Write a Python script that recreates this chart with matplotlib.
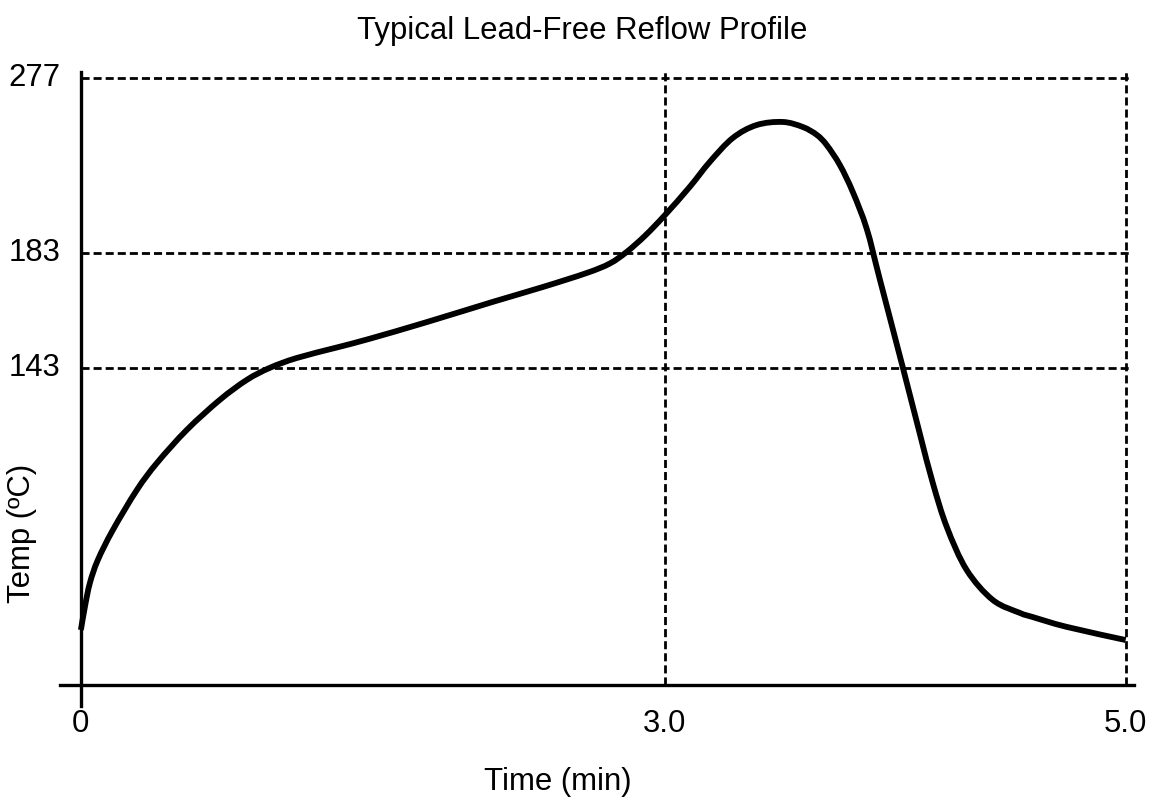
import matplotlib
matplotlib.use("Agg")
import matplotlib.pyplot as plt
import numpy as np
from matplotlib.path import Path
from matplotlib.patches import PathPatch

time_min = [0.0, 0.019, 0.043, 0.081, 0.153, 0.268, 0.364, 0.507, 0.665, 0.794,
            0.904, 1.033, 1.225, 1.383, 1.656, 1.971, 2.211, 2.421, 2.531, 2.612,
            2.700, 2.794, 2.914, 3.010, 3.120, 3.234, 3.359, 3.455, 3.522, 3.569,
            3.632, 3.694, 3.761, 3.823, 3.933, 4.014, 4.077, 4.144, 4.239, 4.364,
            4.493, 4.555, 4.718, 5.0]
temp = [25.1, 35.6, 46.5, 57.0, 70.7, 89.0, 101.3, 116.4, 130.1, 139.2,
        144.7, 149.2, 154.0, 158.0, 165.6, 174.8, 181.6, 188.0, 192.3, 197.6,
        205.0, 214.3, 227.3, 238.7, 249.6, 255.5, 256.9, 254.6, 251.0, 246.4,
        237.3, 225.0, 208.1, 185.3, 145.1, 115.0, 92.2, 72.1, 52.5, 38.8,
        32.9, 31.0, 26.5, 20.5]

# tick positions on the schematic axes and their labels
x_tick_pos = [0.0, 2.794, 5.0]
x_tick_labels = ["0", "3.0", "5.0"]
y_tick_pos = [144.7, 197.1, 277.0]
y_tick_labels = ["143", "183", "277"]

title = "Typical Lead-Free Reflow Profile"
xlabel = "Time (min)"
ylabel = "Temp (ºC)"

plt.rcParams['font.family'] = ['Liberation Sans', 'DejaVu Sans']
W, H = 1156, 808
fig = plt.figure(figsize=(W / 100, H / 100), dpi=100)

left_px, right_px, top_px, bot_px = 60, 1134, 72, 706
ax = fig.add_axes([left_px / W, 1 - bot_px / H, (right_px - left_px) / W, (bot_px - top_px) / H])
ax.set_xlim(-0.1, 5.04)
ax.set_ylim(-9.6, 279.7)

for s in ['top', 'right']:
    ax.spines[s].set_visible(False)
ax.spines['left'].set_position(('data', 0))
ax.spines['bottom'].set_position(('data', 0))
for s in ['left', 'bottom']:
    ax.spines[s].set_linewidth(2.4)
    ax.spines[s].set_color('black')
ax.set_xticks([])
ax.set_yticks([])

dash = (0, (2.9, 1.45))
for y in y_tick_pos:
    ax.plot([0, 5.02], [y, y], color='black', lw=2.0, linestyle=dash, zorder=1)
for x in x_tick_pos[1:]:
    ax.plot([x, x], [0, 279.7], color='black', lw=2.0, linestyle=dash, zorder=1)

# smooth curve through the read points (Catmull-Rom as cubic Bezier path)
pts = np.column_stack([time_min, temp])
verts = [pts[0]]
codes = [Path.MOVETO]
n = len(pts)
for i in range(n - 1):
    p0 = pts[i - 1] if i > 0 else pts[i]
    p1 = pts[i]
    p2 = pts[i + 1]
    p3 = pts[i + 2] if i + 2 < n else pts[i + 1]
    c1 = p1 + (p2 - p0) / 6.0
    c2 = p2 - (p3 - p1) / 6.0
    verts += [c1, c2, p2]
    codes += [Path.CURVE4] * 3
ax.add_patch(PathPatch(Path(verts, codes), facecolor='none', edgecolor='black',
                       lw=4.2, joinstyle='round', capstyle='butt', zorder=3))

fs = 22.4
for x, lbl in zip(x_tick_pos, x_tick_labels):
    ax.annotate(lbl, xy=(x, 0), xytext=(0, -17), textcoords='offset points',
                ha='center', va='top', fontsize=fs)
for y, lbl in zip(y_tick_pos, y_tick_labels):
    ax.annotate(lbl, xy=(0, y), xytext=(-15, 0), textcoords='offset points',
                ha='right', va='center', fontsize=fs)

fig.text(582 / W, 1 - 31 / H, title, ha='center', va='center', fontsize=fs)
fig.text(558 / W, 1 - 782 / H, xlabel, ha='center', va='center', fontsize=fs)
fig.text(22 / W, 1 - 533 / H, ylabel, ha='center', va='center', fontsize=fs, rotation=90)

fig.savefig("out.png", dpi=100)
